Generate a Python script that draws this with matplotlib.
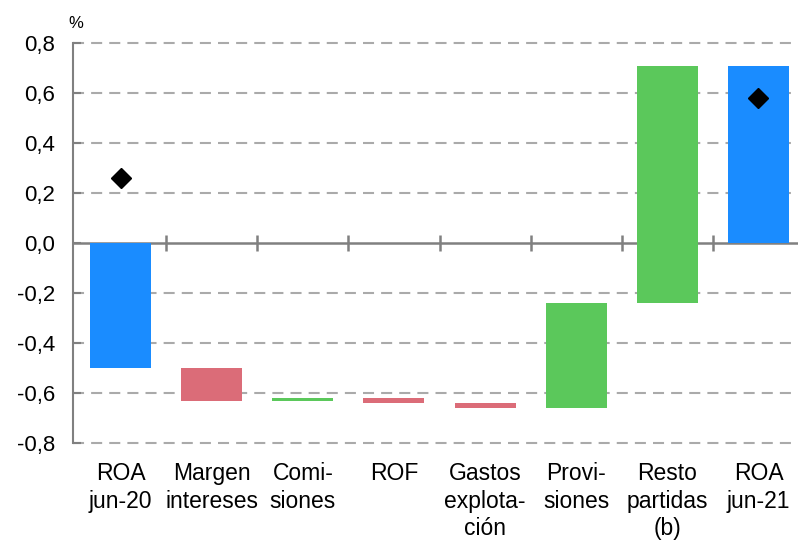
import matplotlib
matplotlib.use("Agg")
import matplotlib.pyplot as plt
import numpy as np
from matplotlib.transforms import blended_transform_factory

categories = ["ROA\njun-20", "Margen\nintereses", "Comi-\nsiones", "ROF",
              "Gastos\nexplota-\nción", "Provi-\nsiones", "Resto\npartidas\n(b)",
              "ROA\njun-21"]
# bar bottoms and tops (%)
bar_bottom = [-0.50, -0.63, -0.63, -0.64, -0.66, -0.66, -0.24, 0.00]
bar_top    = [ 0.00, -0.50, -0.62, -0.62, -0.64, -0.24,  0.71, 0.71]
bar_kind   = ["total", "neg", "pos", "neg", "neg", "pos", "pos", "total"]
roa_points = {0: 0.26, 7: 0.58}
y_ticks = [-0.8, -0.6, -0.4, -0.2, 0.0, 0.2, 0.4, 0.6, 0.8]

colors = {"total": "#1A8CFF", "neg": "#DB6C78", "pos": "#5BC85B"}

plt.rcParams["font.family"] = ["Liberation Sans", "DejaVu Sans"]

fig = plt.figure(figsize=(7.98, 5.41), dpi=100)
ax = fig.add_axes([73 / 798, 1 - 443 / 541, (804 - 73) / 798, 400 / 541])

x = np.arange(len(categories))
heights = np.array(bar_top) - np.array(bar_bottom)
ax.bar(x, heights, bottom=bar_bottom, width=0.67,
       color=[colors[k] for k in bar_kind], zorder=3, linewidth=0)

for xi, val in roa_points.items():
    ax.plot(xi, val, marker="D", markersize=10, color="black", zorder=4,
            linestyle="none")

ax.set_xlim(-0.522, len(categories) - 0.5)
ax.set_ylim(-0.8, 0.8)
ax.set_yticks(y_ticks)
ax.set_yticklabels([f"{v:.1f}".replace(".", ",").replace("-0,0", "0,0") for v in y_ticks])

# dashed horizontal grid
for v in y_ticks:
    if v != 0:
        ax.axhline(v, color="#AAAAAA", linewidth=1.5, dashes=(5.3, 3.4),
                   zorder=1, clip_on=False)

for s in ["top", "right"]:
    ax.spines[s].set_visible(False)
ax.spines["left"].set_color("#808080")
ax.spines["left"].set_linewidth(1.5)
ax.spines["bottom"].set_position(("data", 0))
ax.spines["bottom"].set_color("#808080")
ax.spines["bottom"].set_linewidth(1.8)
ax.spines["bottom"].set_zorder(2)

ax.set_xticks(x[:-1] + 0.5)
ax.tick_params(axis="x", direction="inout", length=12, width=1.8,
               color="#808080", labelbottom=False)
ax.tick_params(axis="y", direction="in", length=6, width=1.5, color="#808080",
               labelsize=16, pad=13)

trans = blended_transform_factory(ax.transData, ax.transAxes)
for xi, lab in zip(x, categories):
    ax.annotate(lab, xy=(xi, 0), xycoords=trans, xytext=(0, -14),
                textcoords="offset points", ha="center", va="top",
                fontsize=16.5, linespacing=1.24)

ax.annotate("%", xy=(0, 1), xycoords="axes fraction", xytext=(2, 9),
            textcoords="offset points", ha="center", va="bottom", fontsize=12)

fig.savefig("out.png", dpi=100)
